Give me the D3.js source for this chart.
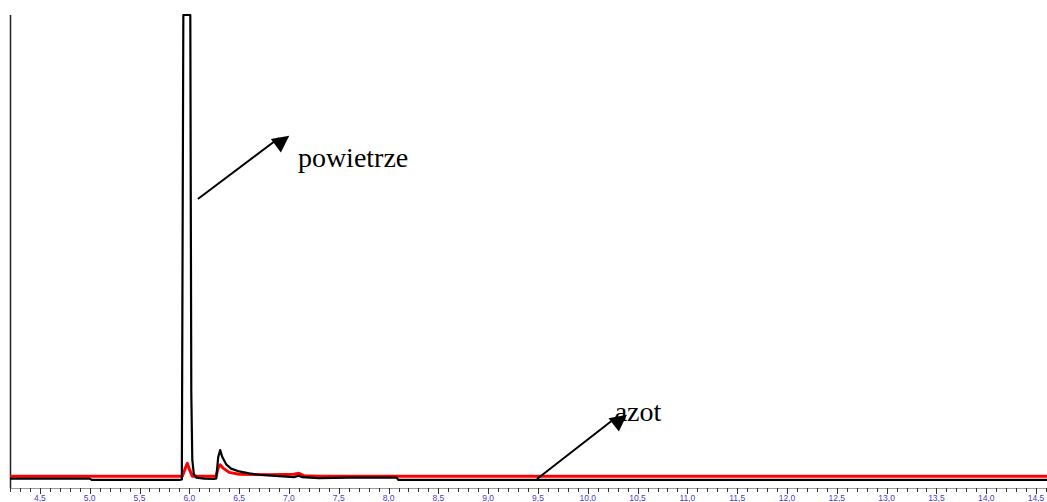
<!DOCTYPE html>
<html>
<head>
<meta charset="utf-8">
<script src="https://cdn.jsdelivr.net/npm/d3@7"></script>
<style>
  body { margin: 0; background: #fff; }
  svg { display: block; }
</style>
</head>
<body>
<div id="chart"></div>
<script>
// retention time (min) and detector signal (arbitrary units, 100 = full scale)
var blackTime = [4.2, 5.0, 5.02, 5.9, 5.925, 5.94, 5.955, 6.01, 6.02, 6.03, 6.045, 6.07, 6.15, 6.25, 6.27, 6.29, 6.31, 6.33, 6.37, 6.42, 6.5, 6.6, 6.7, 6.9, 7.05, 7.1, 7.13, 7.3, 7.6, 8.08, 8.1, 14.61];
var blackSignal = [2.0, 2.0, 1.7, 1.7, 1.8, 100, 100, 100, 20, 6, 3, 2.2, 2.0, 1.9, 2.0, 6.5, 8.0, 6.6, 5.0, 4.1, 3.5, 3.1, 2.8, 2.5, 2.3, 2.6, 2.3, 2.1, 2.2, 2.2, 1.7, 1.7];

var redTime = [4.2, 5.93, 5.96, 5.98, 6.0, 6.03, 6.27, 6.29, 6.31, 6.34, 6.4, 6.5, 6.8, 7.05, 7.1, 7.15, 7.3, 14.61];
var redSignal = [2.5, 2.5, 4.2, 5.2, 4.0, 2.5, 2.5, 4.3, 4.9, 4.2, 3.3, 2.9, 2.8, 2.9, 3.1, 2.6, 2.5, 2.5];

var majorTicks = [4.5, 5.0, 5.5, 6.0, 6.5, 7.0, 7.5, 8.0, 8.5, 9.0, 9.5, 10.0, 10.5, 11.0, 11.5, 12.0, 12.5, 13.0, 13.5, 14.0, 14.5];

var labelNames = ['powietrze', 'azot'];
var arrowFrom = [[6.086, 61.1], [9.49, 1.9]];
var arrowTo = [[6.9, 74.0], [10.29, 15.0]];
var labelAt = [[7.09, 67.9], [10.27, 14.1]];

var width = 1047, height = 502;
var margin = {top: 15, left: 10, bottom: 14};

var x = d3.scaleLinear().domain([4.2, 14.61]).range([10, 1047]);
var y = d3.scaleLinear().domain([0, 100]).range([height - margin.bottom, margin.top]);

var svg = d3.select('#chart').append('svg')
  .attr('width', width)
  .attr('height', height);

svg.append('defs').append('marker')
  .attr('id', 'head')
  .attr('viewBox', '0 0 10 10')
  .attr('refX', 9)
  .attr('refY', 5)
  .attr('markerWidth', 9)
  .attr('markerHeight', 8)
  .attr('markerUnits', 'userSpaceOnUse')
  .attr('orient', 'auto')
  .attr('overflow', 'visible')
  .append('path')
  .attr('d', 'M0,0 L10,5 L0,10 z')
  .attr('transform', 'scale(2.1)')
  .attr('fill', '#000');

// x axis: thin baseline, minor ticks every 0.1, labels every 0.5
var axisY = y(0);
svg.append('line')
  .attr('x1', x(4.2)).attr('x2', width)
  .attr('y1', axisY + 0.5).attr('y2', axisY + 0.5)
  .attr('stroke', '#9a9a9a')
  .attr('stroke-width', 1);

var minor = d3.range(42, 147).map(function(d) { return d / 10; });
svg.append('g').selectAll('line')
  .data(minor)
  .enter().append('line')
  .attr('x1', function(d) { return Math.round(x(d)) + 0.5; })
  .attr('x2', function(d) { return Math.round(x(d)) + 0.5; })
  .attr('y1', axisY)
  .attr('y2', function(d) {
    var isMajor = majorTicks.some(function(m) { return Math.abs(m - d) < 1e-6; });
    return axisY + (isMajor ? 6 : 4);
  })
  .attr('stroke', '#333')
  .attr('stroke-width', 1);

var fmt = d3.formatLocale({decimal: ',', thousands: '.', grouping: [3], currency: ['', '']}).format('.1f');
svg.append('g').selectAll('text')
  .data(majorTicks)
  .enter().append('text')
  .attr('x', function(d) { return x(d); })
  .attr('y', axisY + 13)
  .attr('text-anchor', 'middle')
  .attr('font-family', 'Liberation Sans, Arial, sans-serif')
  .attr('font-size', '8.5px')
  .attr('fill', '#4a3cc8')
  .text(function(d) { return fmt(d); });

// y axis line
svg.append('line')
  .attr('x1', 10.5).attr('x2', 10.5)
  .attr('y1', margin.top).attr('y2', axisY)
  .attr('stroke', '#222')
  .attr('stroke-width', 1.5);

var line = d3.line()
  .x(function(d) { return x(d[0]); })
  .y(function(d) { return y(d[1]); });

svg.append('path')
  .datum(d3.zip(redTime, redSignal))
  .attr('d', line)
  .attr('fill', 'none')
  .attr('stroke', '#ff0000')
  .attr('stroke-width', 3)
  .attr('stroke-linejoin', 'round');

svg.append('path')
  .datum(d3.zip(blackTime, blackSignal))
  .attr('d', line)
  .attr('fill', 'none')
  .attr('stroke', '#000')
  .attr('stroke-width', 2.2)
  .attr('stroke-linejoin', 'round');

// annotations
labelNames.forEach(function(name, i) {
  svg.append('line')
    .attr('x1', x(arrowFrom[i][0])).attr('y1', y(arrowFrom[i][1]))
    .attr('x2', x(arrowTo[i][0])).attr('y2', y(arrowTo[i][1]))
    .attr('stroke', '#000')
    .attr('stroke-width', 2)
    .attr('marker-end', 'url(#head)');
  svg.append('text')
    .attr('x', x(labelAt[i][0]))
    .attr('y', y(labelAt[i][1]))
    .attr('font-family', 'Liberation Serif, Times New Roman, serif')
    .attr('font-size', '28px')
    .attr('fill', '#000')
    .text(name);
});
</script>
</body>
</html>
